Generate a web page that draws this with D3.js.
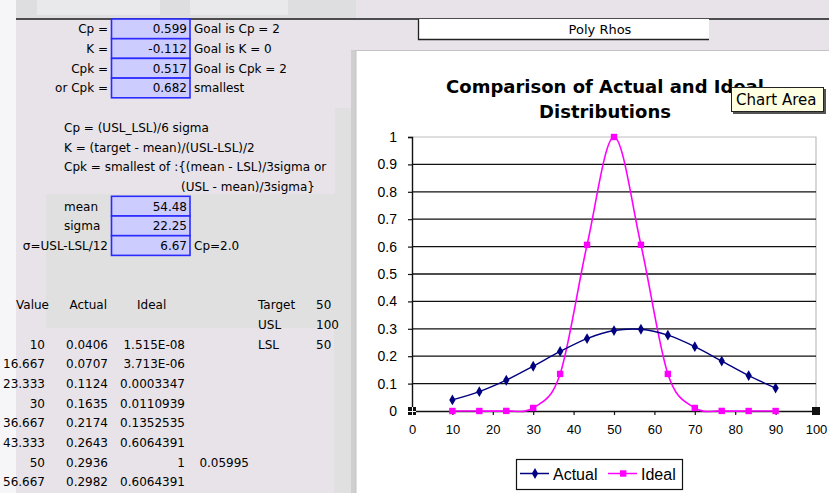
<!DOCTYPE html>
<html>
<head>
<meta charset="utf-8">
<script src="https://cdn.jsdelivr.net/npm/d3@7"></script>
<style>
  html, body { margin: 0; padding: 0; background: #e7e3e9; }
  svg { display: block; }
</style>
</head>
<body>
<svg id="sheet" width="829" height="493"></svg>
<script>
// ---- process capability figures ----
const indexLabels = ["Cp =", "K =", "Cpk =", "or Cpk ="];
const indexValues = ["0.599", "-0.112", "0.517", "0.682"];
const indexNotes  = ["Goal is Cp = 2", "Goal is K = 0", "Goal is Cpk = 2", "smallest"];

const formulaLines = [
  "Cp = (USL_LSL)/6 sigma",
  "K = (target - mean)/(USL-LSL)/2",
  "Cpk = smallest of :{(mean - LSL)/3sigma or"
];
const formulaTail = "(USL - mean)/3sigma}";

const statLabels = ["mean", "sigma", "\u03c3=USL-LSL/12"];
const statValues = ["54.48", "22.25", "6.67"];

const specLabels = ["Target", "USL", "LSL"];
const specValues = ["50", "100", "50"];

// ---- distribution series ----
const values = [10, 16.667, 23.333, 30, 36.667, 43.333, 50, 56.667, 63.333, 70, 76.667, 83.333, 90];
const actual = [0.0406, 0.0707, 0.1124, 0.1635, 0.2174, 0.2643, 0.2936, 0.2982, 0.2768, 0.2349, 0.1822, 0.1292, 0.0838];
const ideal  = [1.515e-8, 3.713e-6, 0.0003347, 0.0110939, 0.1352535, 0.6064391, 1, 0.6064391, 0.1352535, 0.0110939, 0.0003347, 3.713e-6, 1.515e-8];

// table text as shown in the cells
const valueText  = ["10", "16.667", "23.333", "30", "36.667", "43.333", "50", "56.667"];
const actualText = ["0.0406", "0.0707", "0.1124", "0.1635", "0.2174", "0.2643", "0.2936", "0.2982"];
const idealText  = ["1.515E-08", "3.713E-06", "0.0003347", "0.0110939", "0.1352535", "0.6064391", "1", "0.6064391"];
const peakNote   = "0.05995";

const xTicks = [0, 10, 20, 30, 40, 50, 60, 70, 80, 90, 100];
const yTicks = [0, 0.1, 0.2, 0.3, 0.4, 0.5, 0.6, 0.7, 0.8, 0.9, 1];

const chartTitle = ["Comparison of Actual and Ideal", "Distributions"];
const seriesNames = ["Actual", "Ideal"];

const svg = d3.select("#sheet");
const cellFont = "'DejaVu Sans', sans-serif";
const rowTop = i => 19 + 19.7 * i;
const rowBase = i => rowTop(i) + 14.3;

// ---- worksheet background ----
const bg = svg.append("g");
bg.append("rect").attr("x", 0).attr("y", 0).attr("width", 829).attr("height", 493).attr("fill", "#e7e3e9");
bg.append("rect").attr("x", 0).attr("y", 0).attr("width", 16).attr("height", 493).attr("fill", "#f6f5f7");
bg.append("rect").attr("x", 16).attr("y", 0).attr("width", 340).attr("height", 19).attr("fill", "#dedddf");
bg.append("rect").attr("x", 37).attr("y", 0).attr("width", 123).attr("height", 15).attr("fill", "#e9e8ea");
bg.append("rect").attr("x", 190).attr("y", 0).attr("width", 98).attr("height", 15).attr("fill", "#e9e8ea");
bg.append("rect").attr("x", 335).attr("y", 108).attr("width", 16).attr("height", 86).attr("fill", "#e0e0e0");
bg.append("rect").attr("x", 46).attr("y", 194).attr("width", 305).attr("height", 134).attr("fill", "#e0e0e0");
bg.append("rect").attr("x", 334).attr("y", 328).attr("width", 17).attr("height", 165).attr("fill", "#e0e0e0");
bg.append("line").attr("x1", 16).attr("x2", 829).attr("y1", 19).attr("y2", 19)
  .attr("stroke", "#1a1a1a").attr("stroke-width", 1.5);

// ---- worksheet text ----
const txt = (x, y, s, anchor) => svg.append("text")
  .attr("x", x).attr("y", y).attr("text-anchor", anchor || "start")
  .attr("font-family", cellFont).attr("font-size", 12).attr("fill", "#000").text(s);

// blue input cells
function blueCells(firstRow, n) {
  for (let i = 0; i < n; i++) {
    svg.append("rect").attr("x", 111.5).attr("y", rowTop(firstRow + i))
      .attr("width", 78.5).attr("height", 19.7)
      .attr("fill", "#ccccff").attr("stroke", "#2a2aff").attr("stroke-width", 1.6);
  }
}
blueCells(0, 4);
blueCells(9, 3);

indexLabels.forEach((s, i) => txt(108, rowBase(i), s, "end"));
indexValues.forEach((s, i) => txt(187, rowBase(i), s, "end"));
indexNotes.forEach((s, i) => txt(194, rowBase(i), s));

formulaLines.forEach((s, i) => txt(64, rowBase(5 + i), s));
txt(181, rowBase(8), formulaTail);

statLabels.forEach((s, i) => i < 2 ? txt(64, rowBase(9 + i), s) : txt(108, rowBase(9 + i), s, "end"));
statValues.forEach((s, i) => txt(187, rowBase(9 + i), s, "end"));
txt(194, rowBase(11), "Cp=2.0");

txt(16, rowBase(14), "Value");
txt(107, rowBase(14), "Actual", "end");
txt(137, rowBase(14), "Ideal");
specLabels.forEach((s, i) => txt(258, rowBase(14 + i), s));
specValues.forEach((s, i) => txt(316, rowBase(14 + i), s));

valueText.forEach((s, i) => txt(45, rowBase(16 + i), s, "end"));
actualText.forEach((s, i) => txt(108, rowBase(16 + i), s, "end"));
idealText.forEach((s, i) => txt(185, rowBase(16 + i), s, "end"));
txt(249, rowBase(22), peakNote, "end");

// ---- "Poly Rhos" text box ----
svg.append("rect").attr("x", 418).attr("y", 19).attr("width", 291).attr("height", 20).attr("fill", "#fff");
svg.append("path").attr("d", "M418.5,19 V39.5 H709").attr("fill", "none").attr("stroke", "#222").attr("stroke-width", 1.3);
svg.append("text").attr("x", 600).attr("y", 34).attr("text-anchor", "middle")
  .attr("font-family", cellFont).attr("font-size", 13).text("Poly Rhos");

// ---- chart area ----
svg.append("rect").attr("x", 351).attr("y", 50).attr("width", 5).attr("height", 443).attr("fill", "#cfcfcf");
svg.append("rect").attr("x", 356).attr("y", 50.5).attr("width", 480).attr("height", 450)
  .attr("fill", "#fff").attr("stroke", "#c4c4c4").attr("stroke-width", 1);

const title = svg.append("text").attr("text-anchor", "middle")
  .attr("font-family", "'DejaVu Sans', sans-serif").attr("font-weight", "bold").attr("font-size", 18);
chartTitle.forEach((s, i) => title.append("tspan").attr("x", 605).attr("y", 93 + 25 * i).text(s));

const x = d3.scaleLinear().domain([0, 100]).range([412, 816]);
const y = d3.scaleLinear().domain([0, 1]).range([411, 137]);

// plot frame and gridlines
svg.append("path")
  .attr("d", `M${x(0)},${y(1)} H${x(100)} V${y(0)}`)
  .attr("fill", "none").attr("stroke", "#bdbdbd").attr("stroke-width", 1.2);
svg.append("g").selectAll("line").data(yTicks.filter(v => v > 0 && v < 1)).join("line")
  .attr("x1", x(0)).attr("x2", x(100)).attr("y1", d => y(d)).attr("y2", d => y(d))
  .attr("stroke", "#111").attr("stroke-width", 1.3);

const yAxis = svg.append("g").attr("transform", `translate(${x(0)},0)`)
  .call(d3.axisLeft(y).tickValues(yTicks).tickSize(4).tickPadding(11).tickFormat(d3.format("~g")));
const xAxis = svg.append("g").attr("transform", `translate(0,${y(0)})`)
  .call(d3.axisBottom(x).tickValues(xTicks).tickSize(4).tickPadding(10).tickFormat(d3.format("d")));
[yAxis, xAxis].forEach(a => {
  a.select(".domain").attr("stroke", "#111").attr("stroke-width", 1.4);
  a.selectAll(".tick line").attr("stroke", "#111").attr("stroke-width", 1.2);
  a.selectAll(".tick text").attr("fill", "#000").attr("font-family", "'Liberation Sans', Arial, sans-serif");
});
yAxis.selectAll(".tick text").attr("font-size", 14);
xAxis.selectAll(".tick text").attr("font-size", 13);

// selection handles at the ends of the category axis
const handles = svg.append("g").selectAll("g").data([0, 100]).join("g")
  .attr("transform", d => `translate(${x(d)},${y(0)})`);
handles.append("rect").attr("x", -4).attr("y", -4).attr("width", 8).attr("height", 8).attr("fill", "#111");
handles.filter(d => d === 0).append("path").attr("d", "M-4,0.5 H4 M0.5,-4 V4")
  .attr("stroke", "#fff").attr("stroke-width", 1);

// series lines (smoothed)
const line = d3.line().curve(d3.curveCardinal.tension(0));
const ptsA = values.map((v, i) => [x(v), y(actual[i])]);
const ptsI = values.map((v, i) => [x(v), y(ideal[i])]);
svg.append("path").attr("d", line(ptsI)).attr("fill", "none").attr("stroke", "#ff00ff").attr("stroke-width", 1.6);
svg.append("path").attr("d", line(ptsA)).attr("fill", "none").attr("stroke", "#000080").attr("stroke-width", 1.4);

const diamond = d3.symbol().type(d3.symbolDiamond).size(34);
svg.append("g").selectAll("path").data(ptsA).join("path")
  .attr("transform", d => `translate(${d[0]},${d[1]})`).attr("d", diamond).attr("fill", "#000080");
svg.append("g").selectAll("rect").data(ptsI).join("rect")
  .attr("x", d => d[0] - 3.2).attr("y", d => d[1] - 3.2).attr("width", 6.4).attr("height", 6.4)
  .attr("fill", "#ff00ff");

// legend
const lg = svg.append("g");
lg.append("rect").attr("x", 516.5).attr("y", 459.5).attr("width", 166).attr("height", 30)
  .attr("fill", "#fff").attr("stroke", "#111").attr("stroke-width", 1.2);
const legendItems = [
  { name: seriesNames[0], color: "#000080", x0: 520, kind: "diamond" },
  { name: seriesNames[1], color: "#ff00ff", x0: 608, kind: "square" }
];
legendItems.forEach(it => {
  lg.append("line").attr("x1", it.x0).attr("x2", it.x0 + 29).attr("y1", 473.5).attr("y2", 473.5)
    .attr("stroke", it.color).attr("stroke-width", 1.5);
  if (it.kind === "diamond") {
    lg.append("path").attr("transform", `translate(${it.x0 + 15},473.5)`).attr("d", diamond).attr("fill", it.color);
  } else {
    lg.append("rect").attr("x", it.x0 + 12).attr("y", 470.3).attr("width", 6.4).attr("height", 6.4).attr("fill", it.color);
  }
  lg.append("text").attr("x", it.x0 + 33).attr("y", 479.5)
    .attr("font-family", "'Liberation Sans', Arial, sans-serif").attr("font-size", 16).text(it.name);
});

// hover tip over the chart
const tip = svg.append("g");
tip.append("rect").attr("x", 733).attr("y", 89).attr("width", 93).attr("height", 25).attr("fill", "#555");
tip.append("rect").attr("x", 731.5).attr("y", 87.5).attr("width", 92).attr("height", 24)
  .attr("fill", "#ffffe1").attr("stroke", "#222").attr("stroke-width", 1);
tip.append("text").attr("x", 736).attr("y", 105).attr("font-family", cellFont).attr("font-size", 15).text("Chart Area");
</script>
</body>
</html>
